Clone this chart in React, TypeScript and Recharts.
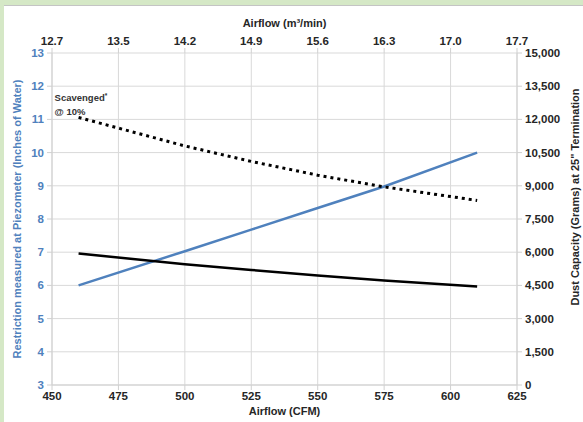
import { ComposedChart, Line, XAxis, YAxis, CartesianGrid, LabelList } from 'recharts';

const airflowCfm = [460, 500, 525, 550, 575, 610];
const restriction = [6.0, 7.03, 7.68, 8.33, 8.98, 10.0];
const dustCapacity = [5940, 5460, 5200, 4950, 4720, 4455];
const scavenged = [12090, 10800, 10100, 9480, 8950, 8340];

const cfmTicks = [450, 475, 500, 525, 550, 575, 600, 625];
const m3Labels = ['12.7', '13.5', '14.2', '14.9', '15.6', '16.3', '17.0', '17.7'];
const leftTicks = [3, 4, 5, 6, 7, 8, 9, 10, 11, 12, 13];
const rightTicks = [0, 1500, 3000, 4500, 6000, 7500, 9000, 10500, 12000, 13500, 15000];

const data = airflowCfm.map((x, i) => ({
  cfm: x,
  restriction: restriction[i],
  dust: dustCapacity[i],
  scavenged: scavenged[i],
}));

const BLUE = '#4f81bd';
const DARK = '#262626';
const FONT = '"Liberation Sans", Arial, sans-serif';
const tickStyle = { fontSize: 11.5, fontWeight: 700, fill: DARK, fontFamily: FONT };

const rotated = (text: string, dx: (v: any) => number, dyOff: number, color: string) => (props: any) => {
  const vb = props.viewBox;
  const x = dx(vb);
  const y = vb.y + vb.height / 2 + dyOff;
  return (
    <text x={x} y={y} transform={`rotate(-90, ${x}, ${y})`} textAnchor="middle" dominantBaseline="central"
      style={{ fontSize: 11, fontWeight: 700, fill: color, fontFamily: FONT }}>{text}</text>
  );
};

const horiz = (text: string, yOf: (v: any) => number) => (props: any) => {
  const vb = props.viewBox;
  return (
    <text x={vb.x + vb.width / 2} y={yOf(vb)} textAnchor="middle" dominantBaseline="central"
      style={{ fontSize: 11, fontWeight: 700, fill: DARK, fontFamily: FONT }}>{text}</text>
  );
};

const ScavengedNote = (props: any) => {
  if (props.index !== 0) return null;
  const { x, y } = props;
  return (
    <g style={{ fontSize: 9.5, fontWeight: 700, fill: '#333', fontFamily: FONT }}>
      <text x={x - 24} y={y - 16}>Scavenged<tspan fontSize={6.5} dy={-3}>*</tspan></text>
      <text x={x - 24} y={y - 2}>@ 10%</text>
    </g>
  );
};

export default function App() {
  return (
    <div style={{ position: 'absolute', left: 0, top: 0, width: 583, height: 422, background: '#d5e8c6' }}>
      <div style={{ position: 'absolute', left: 4, top: 5, width: 579, height: 417, background: '#fff', borderTop: '1px solid #c4c4c4', boxSizing: 'border-box' }}>
        <ComposedChart width={579} height={416} data={data} margin={{ top: 0, right: 0, left: 0, bottom: 0 }}>
          <CartesianGrid yAxisId="left" stroke="#d9d9d9" />
          <XAxis dataKey="cfm" type="number" domain={[450, 625]} ticks={cfmTicks} height={37}
            tick={tickStyle} tickLine={{ stroke: '#d0d0d0' }} axisLine={{ stroke: '#d0d0d0' }} tickSize={5} tickMargin={2}
            label={{ content: horiz('Airflow (CFM)', (vb) => vb.y + 26) }} />
          <XAxis xAxisId="top" dataKey="cfm" orientation="top" type="number" domain={[450, 625]} allowDataOverflow
            ticks={cfmTicks} height={47} interval={0}
            tickFormatter={(v: number) => m3Labels[cfmTicks.indexOf(v)] ?? ''}
            tick={tickStyle} tickLine={{ stroke: '#d0d0d0' }} axisLine={false} tickSize={5} tickMargin={3}
            label={{ content: horiz('Airflow (m³/min)', () => 17) }} />
          <YAxis yAxisId="left" type="number" domain={[3, 13]} ticks={leftTicks} width={48}
            tick={{ ...tickStyle, fill: BLUE }} tickLine={{ stroke: '#d0d0d0' }} axisLine={{ stroke: '#d0d0d0' }} tickSize={5} tickMargin={3}
            label={{ content: rotated('Restriction measured at Piezometer (Inches of Water)', (vb) => vb.x + 13, 0, BLUE) }} />
          <YAxis yAxisId="right" orientation="right" type="number" domain={[0, 15000]} ticks={rightTicks} width={66}
            tickFormatter={(v: number) => v.toLocaleString('en-US')}
            tick={{ ...tickStyle, textAnchor: 'start' }} tickLine={{ stroke: '#d0d0d0' }} axisLine={{ stroke: '#d0d0d0' }} tickSize={5} tickMargin={3}
            label={{ content: rotated('Dust Capacity (Grams) at 25" Termination', (vb) => vb.x + vb.width - 8, -22, DARK) }} />
          <Line yAxisId="left" dataKey="restriction" stroke={BLUE} strokeWidth={2.5} dot={false} isAnimationActive={false} />
          <Line yAxisId="right" dataKey="dust" stroke="#000" strokeWidth={2.5} dot={false} isAnimationActive={false} />
          <Line yAxisId="right" dataKey="scavenged" stroke="#000" strokeWidth={3} strokeDasharray="3 4" dot={false} isAnimationActive={false}>
            <LabelList dataKey="scavenged" content={ScavengedNote} />
          </Line>
        </ComposedChart>
      </div>
    </div>
  );
}
